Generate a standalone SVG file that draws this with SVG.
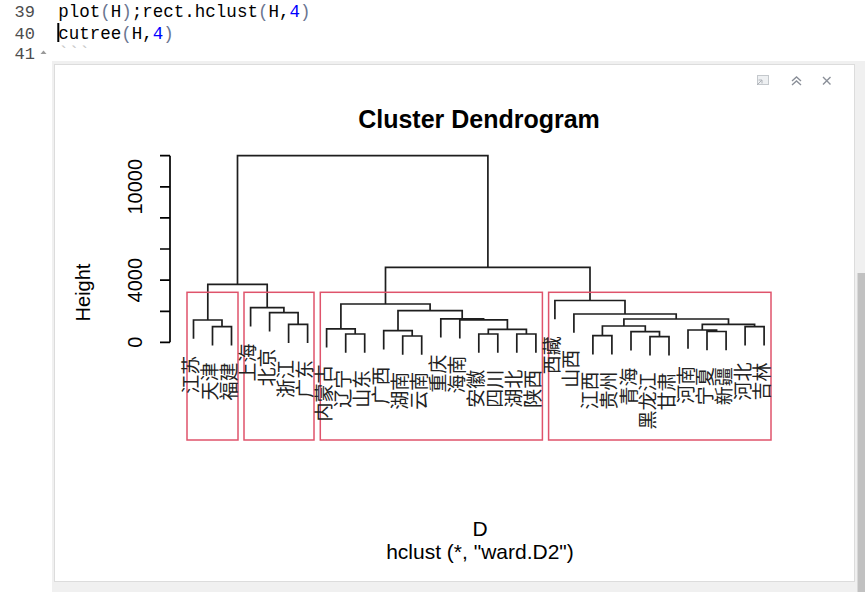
<svg xmlns="http://www.w3.org/2000/svg" width="865" height="592" viewBox="0 0 865 592">
<style>
.code{font-family:"Liberation Mono","DejaVu Sans Mono",monospace;font-size:17.5px;fill:#000}
.ln{font-family:"Liberation Mono","DejaVu Sans Mono",monospace;font-size:17px;fill:#4d4d4d;text-anchor:end}
.par{fill:#6a7590}
.num{fill:#0000ff}
.ax{font-family:"Liberation Sans",Arial,sans-serif;font-size:20px;fill:#000;text-anchor:middle}
.ttl{font-family:"Liberation Sans",Arial,sans-serif;font-size:25px;font-weight:bold;fill:#000;text-anchor:middle}
.sub{font-family:"Liberation Sans",Arial,sans-serif;font-size:21px;fill:#000;text-anchor:middle}
.lab{font-family:"Noto Sans CJK SC",sans-serif;font-size:19px;fill:#222;text-anchor:end}
.dl{fill:none;stroke:#1e1e1e;stroke-width:1.7}
.box{fill:none;stroke:#DF536B;stroke-width:1.5}
.icon{fill:none;stroke:#8a8f98;stroke-width:1.4}
</style>
<rect x="0" y="0" width="865" height="592" fill="#ffffff"/>
<!-- code editor -->
<g id="editor">
<text class="ln" x="35" y="16.5">39</text>
<text class="ln" x="35" y="38.5">40</text>
<text class="ln" x="35" y="58.5">41</text>
<polygon points="40.5,54 46.5,54 43.5,50.5" fill="#9a9a9a"/>
<text class="code" x="58.3" y="16.5">plot<tspan class="par">(</tspan>H<tspan class="par">)</tspan>;rect.hclust<tspan class="par">(</tspan>H,<tspan class="num">4</tspan><tspan class="par">)</tspan></text>
<text class="code" x="58.3" y="38.5">cutree<tspan class="par">(</tspan>H,<tspan class="num">4</tspan><tspan class="par">)</tspan></text>
<text class="code" x="58.3" y="59" style="fill:#c8c8c8">```</text>
<rect x="57.3" y="23" width="2" height="19" fill="#000"/>
</g>
<!-- output panel -->
<g id="panel">
<rect x="52" y="61" width="813" height="531" fill="#f0f0f0"/>
<rect x="54.5" y="64.5" width="800" height="517" fill="#ffffff" stroke="#dcdcdc" stroke-width="1"/>
<rect x="857.5" y="273" width="7.5" height="319" fill="#c1c1c1"/>
<g id="icons">
<rect x="757.5" y="75.5" width="11" height="9" fill="#eef0f2" stroke="#c4c8cc" stroke-width="1"/>
<path d="M757 85 L762 80 M758.5 80 H762 V83.5" fill="none" stroke="#b0b4ba" stroke-width="1"/>
<path class="icon" d="M792 81 L796.5 77 L801 81 M792 85 L796.5 81 L801 85"/>
<path class="icon" d="M823 77 L830.5 84.5 M830.5 77 L823 84.5"/>
</g>
</g>
<!-- title and axis -->
<g id="title"><text class="ttl" x="479" y="127.5">Cluster Dendrogram</text></g>
<g id="axis">
<path class="dl" d="M170 155.7 V342.3 M160 155.7 H170 M160 186.8 H170 M160 217.9 H170 M160 249 H170 M160 280.2 H170 M160 311.3 H170 M160 342.3 H170" style="stroke:#000"/>
<text class="ax" transform="translate(142 342.3) rotate(-90)">0</text>
<text class="ax" transform="translate(142 280.2) rotate(-90)">4000</text>
<text class="ax" transform="translate(142 186.8) rotate(-90)">10000</text>
<text class="ax" transform="translate(89.5 292.5) rotate(-90)">Height</text>
</g>
<g id="xlab">
<text class="sub" x="480" y="535.5">D</text>
<text class="sub" x="480" y="559">hclust (*, "ward.D2")</text>
</g>
<!-- dendrogram connectors -->
<g id="connectors">
<path class="dl" d="M212.5 345.4 V326.7 H231.5 V345.4 M193.5 338.7 V320 H222 V326.7"/>
<path class="dl" d="M288.6 343 V324.3 H307.6 V343 M269.6 331.4 V312.7 H298.1 V324.3 M250.6 326.4 V307.7 H283.9 V312.7"/>
<path class="dl" d="M207.8 320 V284.3 H267.2 V307.7 M237.5 284.3 V155.7 H487.9 V267.3 M385.5 304 V267.3 H590 V300.5"/>
<path class="dl" d="M345.7 352.7 V334 H364.7 V352.7 M326.6 347.5 V328.8 H355.2 V334 M402.7 354.7 V336 H421.7 V354.7 M383.7 349.4 V330.7 H412.2 V336 M478.8 352.7 V334 H497.8 V352.7 M516.8 352.7 V334 H535.9 V352.7 M488.3 334 V329.3 H526.4 V334 M459.8 338.5 V319.8 H507.4 V329.3 M440.8 337.5 V318.8 H483.6 V319.8 M398 330.7 V310.7 H462.2 V318.8 M340.9 328.8 V304 H430.1 V310.7"/>
<path class="dl" d="M592.9 354.4 V335.7 H611.9 V354.4 M650 355.4 V336.7 H669 V355.4 M631 350.4 V331.7 H659.5 V336.7 M602.4 335.7 V326 H645.3 V331.7 M707 350.2 V331.5 H726.1 V350.2 M688 348.7 V330 H716.6 V331.5 M745.1 345.4 V326.7 H764.1 V345.4 M702.3 330 V324.3 H754.6 V326.7 M623.9 326 V319 H728.5 V324.3 M573.9 332.7 V314 H676.2 V319 M554.9 319.2 V300.5 H625 V314"/>
</g>
<!-- cluster rectangles -->
<g id="clusters">
<rect class="box" x="187" y="292.3" width="51" height="147.7"/>
<rect class="box" x="244" y="292.3" width="70" height="147.7"/>
<rect class="box" x="320.3" y="292.3" width="222.1" height="147.7"/>
<rect class="box" x="548.6" y="292.3" width="222.4" height="147.7"/>
</g>
<!-- leaves -->
<g id="leaf-jiangsu"><text class="lab" transform="translate(198 355.7) rotate(-90)">江苏</text></g>
<g id="leaf-tianjin"><text class="lab" transform="translate(217 362.4) rotate(-90)">天津</text></g>
<g id="leaf-fujian"><text class="lab" transform="translate(236 362.4) rotate(-90)">福建</text></g>
<g id="leaf-shanghai"><text class="lab" transform="translate(255.1 343.4) rotate(-90)">上海</text></g>
<g id="leaf-beijing"><text class="lab" transform="translate(274.1 348.4) rotate(-90)">北京</text></g>
<g id="leaf-zhejiang"><text class="lab" transform="translate(293.1 360) rotate(-90)">浙江</text></g>
<g id="leaf-guangdong"><text class="lab" transform="translate(312.1 360) rotate(-90)">广东</text></g>
<g id="leaf-neimenggu"><text class="lab" transform="translate(331.1 364.5) rotate(-90)">内蒙古</text></g>
<g id="leaf-liaoning"><text class="lab" transform="translate(350.2 369.7) rotate(-90)">辽宁</text></g>
<g id="leaf-shandong"><text class="lab" transform="translate(369.2 369.7) rotate(-90)">山东</text></g>
<g id="leaf-guangxi"><text class="lab" transform="translate(388.2 366.4) rotate(-90)">广西</text></g>
<g id="leaf-hunan"><text class="lab" transform="translate(407.2 371.7) rotate(-90)">湖南</text></g>
<g id="leaf-yunnan"><text class="lab" transform="translate(426.2 371.7) rotate(-90)">云南</text></g>
<g id="leaf-chongqing"><text class="lab" transform="translate(445.3 354.5) rotate(-90)">重庆</text></g>
<g id="leaf-hainan"><text class="lab" transform="translate(464.3 355.5) rotate(-90)">海南</text></g>
<g id="leaf-anhui"><text class="lab" transform="translate(483.3 369.7) rotate(-90)">安徽</text></g>
<g id="leaf-sichuan"><text class="lab" transform="translate(502.3 369.7) rotate(-90)">四川</text></g>
<g id="leaf-hubei"><text class="lab" transform="translate(521.3 369.7) rotate(-90)">湖北</text></g>
<g id="leaf-shaanxi"><text class="lab" transform="translate(540.4 369.7) rotate(-90)">陕西</text></g>
<g id="leaf-xizang"><text class="lab" transform="translate(559.4 336.2) rotate(-90)">西藏</text></g>
<g id="leaf-shanxi"><text class="lab" transform="translate(578.4 349.7) rotate(-90)">山西</text></g>
<g id="leaf-jiangxi"><text class="lab" transform="translate(597.4 371.4) rotate(-90)">江西</text></g>
<g id="leaf-guizhou"><text class="lab" transform="translate(616.4 371.4) rotate(-90)">贵州</text></g>
<g id="leaf-qinghai"><text class="lab" transform="translate(635.5 367.4) rotate(-90)">青海</text></g>
<g id="leaf-heilongjiang"><text class="lab" transform="translate(654.5 372.4) rotate(-90)">黑龙江</text></g>
<g id="leaf-gansu"><text class="lab" transform="translate(673.5 372.4) rotate(-90)">甘肃</text></g>
<g id="leaf-henan"><text class="lab" transform="translate(692.5 365.7) rotate(-90)">河南</text></g>
<g id="leaf-ningxia"><text class="lab" transform="translate(711.5 367.2) rotate(-90)">宁夏</text></g>
<g id="leaf-xinjiang"><text class="lab" transform="translate(730.6 367.2) rotate(-90)">新疆</text></g>
<g id="leaf-hebei"><text class="lab" transform="translate(749.6 362.4) rotate(-90)">河北</text></g>
<g id="leaf-jilin"><text class="lab" transform="translate(768.6 362.4) rotate(-90)">吉林</text></g>
</svg>
